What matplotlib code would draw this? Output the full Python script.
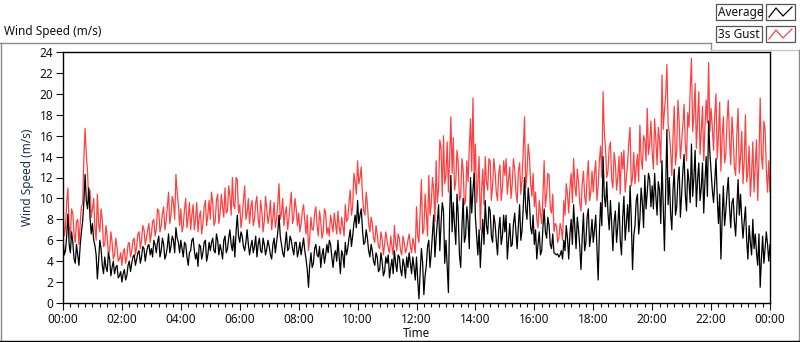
"""Wind speed chart: average and 3s gust over one day"""

import numpy as np
import matplotlib
matplotlib.use("Agg")
import matplotlib.pyplot as plt
from matplotlib.lines import Line2D
from matplotlib.patches import Rectangle
from matplotlib.ticker import MultipleLocator, FuncFormatter

plt.rcParams['font.family'] = ['Noto Sans', 'DejaVu Sans']

# readings on the 5 minute marks, one row per hour (00:00 .. 23:55), plus the 24:00 end point
gust = [
    9.8, 7.2, 11.0, 6.2, 8.6, 5.8, 8.0, 7.6, 9.5, 16.7, 12.5, 10.8,
    9.0, 7.2, 10.4, 6.8, 8.0, 5.6, 6.4, 5.0, 5.8, 4.6, 5.4, 4.2,
    3.6, 5.2, 4.4, 5.8, 5.0, 6.2, 5.4, 6.8, 6.0, 7.0, 6.2, 7.6,
    6.6, 8.0, 7.0, 8.8, 7.4, 9.2, 7.8, 10.6, 8.4, 9.6, 12.3, 9.4,
    9.0, 7.4, 10.0, 8.2, 7.0, 9.4, 8.0, 6.8, 8.8, 7.6, 9.8, 8.4,
    8.0, 9.6, 7.8, 10.4, 8.6, 9.2, 11.0, 8.8, 10.2, 12.0, 9.0, 11.8,
    9.4, 8.2, 11.2, 8.6, 7.6, 9.8, 8.0, 10.2, 7.2, 8.8, 7.8, 9.0,
    8.4, 7.0, 9.6, 8.0, 11.4, 8.6, 7.4, 9.2, 8.0, 10.6, 8.2, 9.0,
    8.6, 7.6, 9.4, 6.6, 5.0, 8.2, 7.0, 9.2, 6.4, 7.8, 6.8, 8.6,
    7.2, 8.4, 6.8, 7.6, 8.8, 6.6, 7.4, 9.4, 8.0, 10.8, 9.2, 11.6,
    13.6, 12.0, 10.2, 8.4, 9.4, 6.8, 7.6, 5.8, 6.6, 5.2, 6.2, 5.6,
    6.0, 4.8, 5.4, 7.4, 5.0, 6.2, 4.6, 5.8, 5.2, 6.6, 4.8, 5.6,
    9.2, 5.8, 11.8, 7.0, 8.6, 12.2, 9.4, 10.8, 13.6, 11.0, 14.8, 16.0,
    12.2, 10.6, 17.8, 15.8, 11.6, 13.4, 10.2, 12.8, 9.8, 11.6, 17.6, 19.6,
    15.2, 11.6, 7.0, 12.8, 14.0, 10.8, 13.6, 11.2, 12.6, 9.8, 13.2, 11.0,
    12.2, 10.4, 13.0, 11.4, 12.8, 9.6, 13.4, 11.8, 17.8, 12.4, 14.0, 10.2,
    9.2, 8.0, 9.8, 7.6, 13.6, 10.4, 12.2, 8.6, 6.8, 7.4, 6.2, 7.0,
    9.8, 11.4, 8.6, 12.4, 13.8, 10.2, 11.6, 8.8, 12.6, 9.4, 13.6, 10.6,
    10.6, 13.6, 11.2, 15.0, 20.2, 14.8, 12.6, 15.4, 11.0, 13.4, 12.0, 10.4,
    12.8, 10.6, 13.4, 16.8, 12.0, 11.4, 14.2, 17.0, 12.8, 15.6, 18.6, 15.2,
    14.4, 17.6, 13.2, 15.6, 21.8, 18.4, 22.8, 16.2, 12.2, 18.8, 14.6, 17.4,
    15.4, 19.0, 13.6, 16.8, 23.4, 18.0, 14.8, 20.2, 16.4, 13.6, 19.4, 23.0,
    18.6, 14.6, 20.0, 16.0, 12.6, 17.8, 14.2, 19.4, 13.2, 15.8, 12.2, 18.6,
    14.0, 11.4, 18.0, 12.6, 10.2, 15.4, 13.0, 9.8, 19.6, 12.8, 16.6, 10.6,
    10.6,
]
# readings halfway between the 5 minute marks (xx:02.5 .. 23:57.5)
gust_mid = [
    6.4, 9.6, 7.4, 9.0, 6.6, 7.8, 5.6, 9.2, 13.8, 14.2, 9.6, 8.2,
    10.0, 6.0, 7.6, 9.0, 5.4, 7.4, 4.6, 6.8, 4.2, 6.2, 4.0, 4.8,
    4.8, 3.8, 5.6, 4.4, 6.0, 4.6, 6.6, 5.2, 7.4, 5.6, 7.0, 5.8,
    7.8, 6.4, 9.0, 6.8, 8.6, 7.0, 9.2, 7.6, 10.2, 8.0, 10.6, 7.4,
    6.8, 9.0, 7.2, 9.6, 8.4, 7.0, 9.6, 8.2, 6.6, 9.2, 7.4, 9.8,
    10.6, 7.4, 9.8, 7.6, 10.4, 8.2, 8.6, 11.2, 8.4, 9.4, 12.0, 8.6,
    7.2, 9.8, 8.0, 10.0, 9.2, 7.4, 9.6, 8.0, 9.8, 6.8, 10.2, 7.6,
    9.8, 8.2, 7.2, 9.6, 8.0, 10.0, 8.6, 7.0, 9.4, 7.6, 10.0, 7.4,
    6.8, 8.8, 7.8, 8.4, 6.2, 7.0, 8.6, 7.4, 8.8, 6.2, 9.0, 6.6,
    6.4, 7.6, 8.6, 6.6, 7.2, 8.2, 6.4, 7.8, 9.6, 8.4, 12.4, 10.4,
    11.4, 13.0, 8.8, 10.6, 7.6, 8.2, 6.2, 7.4, 5.4, 6.8, 4.6, 6.8,
    5.2, 6.4, 4.6, 5.8, 6.6, 5.0, 6.4, 4.8, 6.0, 5.4, 6.2, 4.8,
    6.4, 8.8, 6.6, 10.4, 6.4, 8.4, 12.0, 7.8, 9.6, 15.6, 10.2, 11.4,
    15.4, 13.8, 12.4, 10.8, 14.6, 9.8, 13.8, 9.4, 13.6, 14.8, 12.6, 11.8,
    9.6, 14.0, 10.8, 9.4, 11.6, 13.8, 9.8, 13.8, 10.6, 12.4, 9.8, 13.6,
    13.8, 11.8, 10.0, 13.8, 10.6, 12.6, 10.4, 14.6, 11.0, 15.2, 11.4, 12.4,
    10.6, 7.2, 8.6, 10.2, 9.2, 12.4, 9.0, 10.4, 7.6, 5.8, 7.6, 6.0,
    8.4, 10.4, 11.0, 9.6, 11.2, 12.8, 9.6, 11.4, 10.2, 12.0, 9.8, 12.6,
    12.4, 9.8, 13.6, 12.0, 16.4, 12.0, 14.8, 11.8, 14.4, 10.8, 14.0, 14.4,
    14.6, 12.0, 15.4, 11.2, 14.4, 13.0, 11.6, 13.8, 16.0, 13.6, 14.2, 17.4,
    12.8, 15.6, 16.8, 13.4, 16.6, 19.8, 17.0, 14.6, 16.0, 13.2, 19.4, 13.8,
    17.0, 15.2, 18.2, 20.4, 16.4, 21.0, 17.6, 14.2, 18.8, 16.8, 17.2, 16.4,
    16.8, 18.0, 13.8, 19.2, 15.8, 13.4, 17.4, 15.6, 17.8, 13.0, 16.2, 12.4,
    16.4, 13.6, 11.6, 15.0, 12.4, 10.6, 15.6, 13.8, 14.2, 17.4, 12.8, 13.6,
]
average = [
    6.2, 5.0, 8.5, 4.8, 5.8, 3.8, 4.6, 5.5, 7.8, 12.3, 9.0, 8.2,
    7.6, 5.5, 2.3, 6.0, 3.6, 4.4, 3.0, 4.2, 3.4, 2.8, 3.6, 2.6,
    2.0, 3.2, 2.6, 4.0, 3.8, 4.6, 4.2, 5.0, 4.4, 5.2, 4.8, 5.6,
    5.2, 6.0, 4.8, 6.4, 5.0, 5.6, 4.6, 6.6, 5.4, 6.0, 7.2, 5.8,
    6.0, 4.4, 5.6, 3.6, 5.0, 6.2, 4.2, 3.5, 5.4, 4.8, 6.0, 4.6,
    5.0, 6.2, 4.8, 6.0, 5.6, 4.2, 6.4, 5.2, 7.0, 5.0, 4.4, 8.4,
    5.8, 6.4, 5.0, 7.0, 4.6, 6.0, 5.4, 4.4, 6.2, 4.8, 5.6, 5.2,
    5.4, 4.2, 6.2, 5.8, 8.4, 5.6, 4.4, 6.8, 5.2, 6.0, 4.6, 5.8,
    5.0, 4.6, 6.2, 4.2, 1.5, 4.8, 3.8, 5.6, 4.4, 3.4, 5.2, 4.6,
    4.8, 5.6, 3.4, 5.0, 6.0, 2.8, 4.6, 5.8, 5.2, 7.0, 6.4, 8.4,
    9.8, 8.4, 7.0, 5.8, 6.2, 4.4, 5.0, 3.6, 4.4, 3.2, 4.0, 3.0,
    3.8, 2.4, 4.2, 5.0, 3.0, 4.4, 2.6, 3.6, 4.4, 4.8, 2.8, 3.4,
    4.4, 0.4, 5.2, 0.8, 3.6, 6.0, 4.8, 8.4, 6.2, 9.4, 7.6, 8.8,
    6.0, 1.0, 12.2, 9.6, 5.6, 8.4, 3.4, 10.0, 6.4, 7.8, 12.0, 10.8,
    8.2, 4.6, 3.4, 8.0, 9.8, 6.6, 8.8, 5.8, 7.6, 4.6, 8.2, 6.4,
    6.8, 4.2, 7.6, 5.6, 8.6, 5.2, 9.4, 7.0, 12.0, 8.0, 9.6, 6.6,
    5.6, 4.2, 6.8, 5.0, 9.0, 6.2, 7.4, 5.2, 4.8, 4.6, 4.4, 5.0,
    6.0, 7.4, 4.2, 8.0, 9.4, 5.2, 7.0, 3.2, 8.6, 5.8, 9.0, 6.4,
    5.8, 8.4, 2.2, 9.6, 14.0, 9.2, 8.6, 9.8, 5.0, 8.8, 7.4, 6.0,
    8.2, 6.0, 9.4, 11.2, 3.2, 7.4, 10.4, 8.0, 9.6, 12.2, 10.6, 11.8,
    11.2, 12.4, 8.4, 10.8, 13.6, 5.0, 16.6, 12.0, 7.0, 12.8, 9.2, 13.0,
    10.4, 14.2, 8.8, 11.6, 15.2, 12.0, 9.2, 13.4, 11.0, 8.6, 14.0, 17.4,
    12.6, 9.6, 13.8, 7.6, 4.2, 11.2, 8.8, 12.0, 7.2, 10.0, 6.4, 11.8,
    10.4, 6.2, 9.2, 4.2, 5.8, 8.0, 6.6, 3.6, 1.5, 6.4, 5.2, 5.6,
    5.6,
]
average_mid = [
    4.6, 6.4, 5.6, 6.8, 4.2, 5.6, 3.6, 6.8, 9.6, 9.8, 11.0, 6.6,
    6.0, 4.6, 4.0, 5.2, 2.8, 3.4, 4.8, 2.6, 4.0, 3.4, 2.4, 3.0,
    2.8, 2.2, 3.6, 3.0, 4.4, 3.6, 4.8, 3.8, 5.4, 4.0, 5.4, 4.6,
    4.4, 5.6, 5.8, 4.4, 6.2, 4.2, 5.4, 4.8, 6.4, 4.8, 6.2, 4.8,
    5.2, 5.8, 4.4, 4.8, 6.0, 5.0, 4.8, 5.6, 4.2, 5.8, 4.0, 5.8,
    5.8, 5.0, 6.6, 4.6, 5.0, 6.0, 4.8, 6.2, 5.6, 6.4, 6.8, 6.4,
    6.8, 5.4, 5.8, 5.6, 5.4, 4.8, 6.4, 5.6, 5.0, 6.2, 4.6, 6.0,
    4.6, 5.6, 4.8, 6.8, 6.4, 4.8, 5.6, 5.0, 6.4, 5.2, 5.8, 4.4,
    5.8, 5.4, 5.0, 3.2, 3.6, 3.4, 5.2, 4.6, 5.4, 4.6, 3.8, 5.6,
    6.0, 4.4, 4.6, 4.0, 4.4, 5.0, 3.4, 4.6, 6.2, 5.4, 7.6, 7.2,
    7.6, 9.0, 5.6, 7.0, 5.0, 5.6, 4.0, 4.8, 3.0, 4.8, 2.6, 4.4,
    4.6, 3.4, 2.8, 3.8, 4.6, 3.2, 4.2, 2.4, 3.4, 3.8, 4.4, 2.2,
    2.2, 3.0, 3.8, 2.6, 5.4, 3.4, 6.6, 4.4, 7.8, 5.0, 9.6, 3.8,
    3.6, 8.6, 6.8, 7.4, 10.4, 4.6, 7.2, 5.8, 9.2, 5.2, 8.6, 12.4,
    6.4, 7.0, 6.0, 5.6, 7.4, 9.2, 6.4, 8.4, 6.0, 7.0, 5.6, 8.4,
    8.4, 6.0, 5.4, 7.6, 6.8, 7.4, 6.0, 9.2, 9.0, 11.0, 7.2, 8.4,
    7.0, 5.6, 4.6, 7.2, 6.8, 8.2, 5.6, 6.6, 4.7, 4.7, 4.6, 4.2,
    5.0, 6.2, 6.6, 5.6, 7.2, 8.2, 5.4, 6.2, 5.0, 8.2, 5.4, 8.0,
    7.0, 5.2, 6.8, 7.4, 10.2, 11.6, 7.0, 7.6, 7.8, 5.8, 9.6, 4.6,
    10.2, 7.6, 6.8, 8.0, 6.4, 9.8, 6.6, 11.0, 7.2, 9.0, 12.4, 9.2,
    9.0, 10.2, 11.6, 7.6, 9.4, 10.6, 9.4, 8.6, 10.8, 8.4, 11.8, 8.2,
    12.6, 10.4, 12.8, 9.6, 10.2, 14.6, 11.8, 9.8, 13.4, 11.6, 10.2, 14.4,
    10.8, 11.6, 10.2, 10.4, 8.0, 7.4, 10.6, 9.2, 9.6, 7.8, 9.0, 8.4,
    8.0, 7.8, 6.0, 7.4, 4.6, 5.2, 4.8, 6.6, 4.2, 3.8, 6.8, 4.0,
]

# merge the two sets of readings into one series each, 2.5 minutes apart
gust_all = np.empty(len(gust) + len(gust_mid))
gust_all[0::2] = gust
gust_all[1::2] = gust_mid
average_all = np.empty(len(average) + len(average_mid))
average_all[0::2] = average
average_all[1::2] = average_mid
hours = np.arange(len(gust_all)) * 2.5 / 60.0

W, H = 800, 342
fig = plt.figure(figsize=(W / 100, H / 100), dpi=100)
fig.patch.set_facecolor('white')

# plot area in pixels: x 63..770, y 52..303
ax = fig.add_axes([63 / W, 1 - 303 / H, (770 - 63) / W, (303 - 52) / H])
ax.plot(hours, gust_all, color='#ff4040', lw=0.9)
ax.plot(hours, average_all, color='black', lw=0.9)

ax.set_xlim(0, 24)
ax.set_ylim(0, 24)
ax.yaxis.set_major_locator(MultipleLocator(2))
ax.xaxis.set_major_locator(MultipleLocator(2))
ax.xaxis.set_minor_locator(MultipleLocator(0.25))
ax.xaxis.set_major_formatter(FuncFormatter(lambda v, p: "%02d:00" % (int(round(v)) % 24)))
ax.tick_params(axis='both', which='major', length=5, width=0.8, labelsize=8.5,
               colors='#111111', pad=2)
ax.tick_params(axis='x', which='minor', length=3, width=0.8, colors='#111111')
for side in ax.spines.values():
    side.set_linewidth(1.0)
    side.set_color('black')

ax.set_xlabel("Time", fontsize=8.5, color='#111111', labelpad=1)
ax.set_ylabel("Wind Speed (m/s)", fontsize=8.5, color='#1a2f55', labelpad=4)

# title above the chart
fig.text(4 / W, 1 - 32 / H, "Wind Speed (m/s)", fontsize=8.5, color='#111111', va='center')

# grey frame around the chart panel
frame = dict(color='#8a8a8a', lw=1.0, transform=fig.transFigure)
fig.add_artist(Line2D([0, 711 / W], [1 - 42.5 / H] * 2, **frame))
fig.add_artist(Line2D([711 / W, 711 / W], [1 - 42.5 / H, 1 - 49.5 / H], **frame))
fig.add_artist(Line2D([711 / W, 1], [1 - 49.5 / H] * 2, color='#c8c8c8', lw=1.0,
                      transform=fig.transFigure))
fig.add_artist(Line2D([1.0 / W, 1.0 / W], [0, 1 - 42.5 / H], **frame))
fig.add_artist(Line2D([798.5 / W, 798.5 / W], [0, 1 - 49.5 / H], **frame))
fig.add_artist(Line2D([0, 1], [1.0 / H, 1.0 / H], color='black', lw=1.0,
                      transform=fig.transFigure))

# legend: name box and a small sample box for each plot
legend_rows = [("Average", 'black', 4), ("3s Gust", '#ff4040', 26)]
for name, colour, top in legend_rows:
    fig.add_artist(Rectangle((716 / W, 1 - (top + 16) / H), 46 / W, 16 / H,
                             transform=fig.transFigure, facecolor='white',
                             edgecolor='#555555', lw=0.9))
    fig.text(718 / W, 1 - (top + 8.5) / H, name, fontsize=8.5, color='#111111', va='center')
    fig.add_artist(Rectangle((766 / W, 1 - (top + 16) / H), 29 / W, 16 / H,
                             transform=fig.transFigure, facecolor='white',
                             edgecolor='#555555', lw=0.9))
    sx = np.array([769, 776, 783, 792]) / W
    sy = 1 - (top + np.array([13, 4, 12, 3])) / H
    fig.add_artist(Line2D(sx, sy, color=colour, lw=0.9, transform=fig.transFigure))

fig.savefig("out.png", dpi=100)
